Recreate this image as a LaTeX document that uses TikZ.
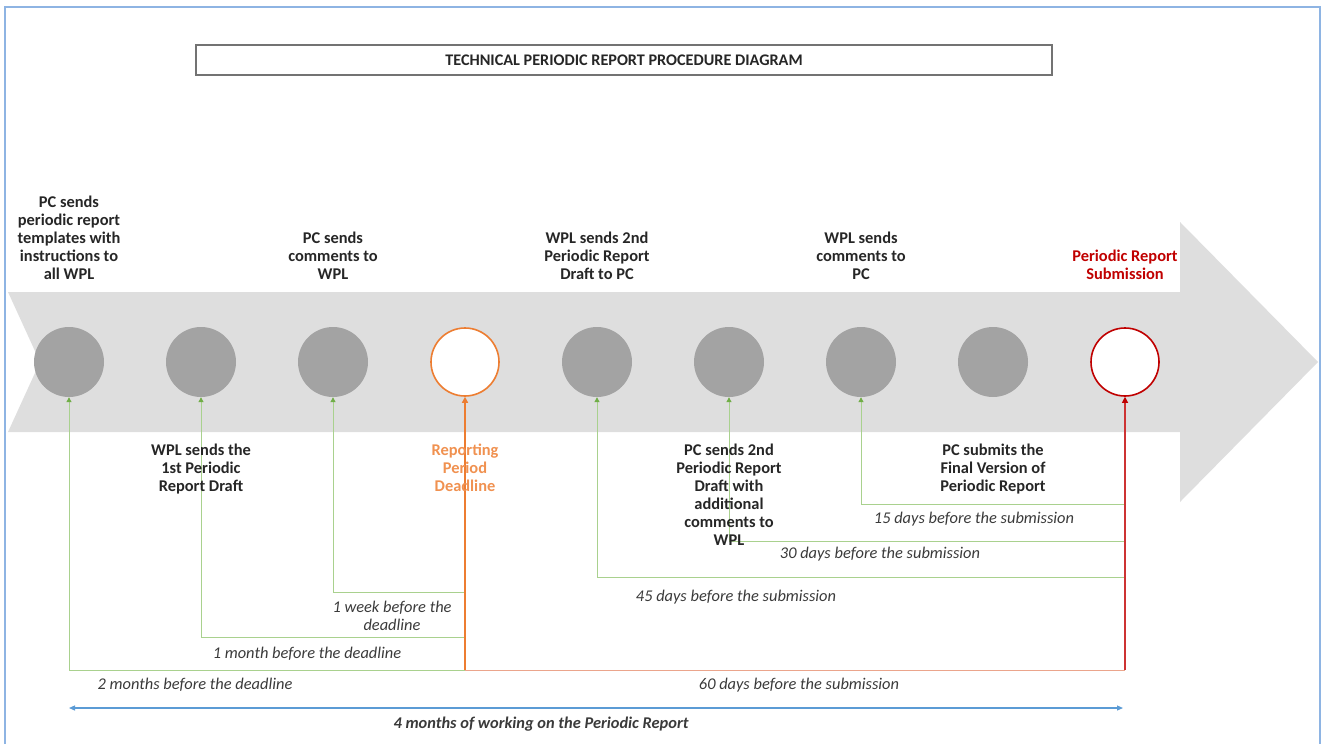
\documentclass[tikz,border=0pt]{standalone}
\usepackage{fontspec}
\setmainfont{Carlito}
\usetikzlibrary{arrows.meta}
\definecolor{arrowgray}{HTML}{DEDEDE}
\definecolor{dotgray}{HTML}{A3A3A3}
\definecolor{orangec}{HTML}{ED7D31}
\definecolor{redc}{HTML}{C00000}
\definecolor{greenl}{HTML}{A9D18E}
\definecolor{greend}{HTML}{70AD47}
\definecolor{bluec}{HTML}{5B9BD5}
\definecolor{frameblue}{HTML}{8EB4E3}
\definecolor{txt}{HTML}{262626}
\definecolor{itxt}{HTML}{3A3A3A}
\definecolor{salmon}{HTML}{EBA58C}
\begin{document}
\begin{tikzpicture}[x=1pt,y=-1pt,
  dot/.style={circle, minimum size=70pt, inner sep=0pt, fill=dotgray},
  milestone/.style={circle, minimum size=68pt, inner sep=0pt, fill=white, line width=1.6pt},
  toplbl/.style={align=center, inner sep=0pt, anchor=south, text=txt, font=\fontsize{16.4}{18}\selectfont\bfseries},
  botlbl/.style={align=center, inner sep=0pt, anchor=north, text=txt, font=\fontsize{16.4}{18}\selectfont\bfseries},
  ilbl/.style={align=center, inner sep=0pt, text=itxt, font=\fontsize{16.4}{18}\selectfont\itshape},
  gline/.style={draw=greenl, line width=1pt, -{Triangle[length=5pt,width=5pt,color=greend]}},
]
\useasboundingbox (0,0) rectangle (1322,744);
% frame
\draw[frameblue, line width=1.5pt] (5,744) -- (5,7) -- (1320,7) -- (1320,744);
% title
\node[draw=black!55, line width=1.5pt, minimum width=856pt, minimum height=30pt, inner sep=0pt,
      font=\fontsize{16.2}{18}\selectfont\bfseries, text=txt] (title) at (624,60)
      {TECHNICAL PERIODIC REPORT PROCEDURE DIAGRAM};
% big arrow
\fill[arrowgray] (8,292) -- (1180,292) -- (1180,222) -- (1318,362) -- (1180,502)
   -- (1180,432) -- (8,432) -- (40,362) -- cycle;
% circles
\node[dot] (c1) at (69,362) {};
\node[dot] (c2) at (201,362) {};
\node[dot] (c3) at (333,362) {};
\node[milestone, draw=orangec] (c4) at (465,362) {};
\node[dot] (c5) at (597,362) {};
\node[dot] (c6) at (729,362) {};
\node[dot] (c7) at (861,362) {};
\node[dot] (c8) at (993,362) {};
\node[milestone, draw=redc] (c9) at (1125,362) {};
% coordinates
\coordinate (d60) at (465,670);
\coordinate (s60) at (1125,670);
\coordinate (w1) at (465,592);
\coordinate (m1) at (465,637);
\coordinate (m2) at (465,670);
\coordinate (s15) at (1125,504);
\coordinate (s30) at (1125,541);
\coordinate (s45) at (1125,577);
\coordinate (b1) at (69,708);
\coordinate (b2) at (1123,708);
% connectors
\draw[gline] (w1) -| (c3.south);
\draw[gline] (m1) -| (c2.south);
\draw[gline] (m2) -| (c1.south);
\draw[gline] (s15) -| (c7.south);
\draw[gline] (s30) -| (c6.south);
\draw[gline] (s45) -| (c5.south);
\draw[salmon, line width=1pt] (d60) -- (s60);
\draw[orangec, line width=1.6pt, -{Triangle[length=6pt,width=6pt]}] (d60) -- (c4.south);
\draw[redc!80, line width=1.2pt, -{Triangle[length=6pt,width=6pt,color=redc]}] (s60) -- (c9.south);
\draw[bluec, line width=1.2pt, {Triangle[length=6pt,width=5pt]}-{Triangle[length=6pt,width=5pt]}] (b1) -- (b2);
% top labels
\node[toplbl] (t1) at (69,280) {PC sends\\periodic report\\templates with\\instructions to\\all WPL};
\node[toplbl] (t3) at (333,280) {PC sends\\comments to\\WPL};
\node[toplbl] (t5) at (597,280) {WPL sends 2nd\\Periodic Report\\Draft to PC};
\node[toplbl] (t7) at (861,280) {WPL sends\\comments to\\PC};
\node[toplbl, text=redc] (t9) at (1125,280) {Periodic Report\\Submission};
% bottom labels
\node[botlbl] (b2l) at (201,444) {WPL sends the\\1st Periodic\\Report Draft};
\node[botlbl, text=orangec!85] (b4l) at (465,444) {Reporting\\Period\\Deadline};
\node[botlbl] (b6l) at (729,444) {PC sends 2nd\\Periodic Report\\Draft with\\additional\\comments to\\WPL};
\node[botlbl] (b8l) at (993,444) {PC submits the\\Final Version of\\Periodic Report};
% interval labels
\node[ilbl] (l1w) at (392,616) {1 week before the\\deadline};
\node[ilbl] (l1m) at (307,654) {1 month before the deadline};
\node[ilbl] (l2m) at (195,685) {2 months before the deadline};
\node[ilbl] (l15) at (974,519) {15 days before the submission};
\node[ilbl] (l30) at (880,554) {30 days before the submission};
\node[ilbl] (l45) at (736,597) {45 days before the submission};
\node[ilbl] (l60) at (799,685) {60 days before the submission};
\node[ilbl, font=\fontsize{16.4}{18}\selectfont\bfseries\itshape] (l4m) at (541,724) {4 months of working on the Periodic Report};
\end{tikzpicture}
\end{document}
